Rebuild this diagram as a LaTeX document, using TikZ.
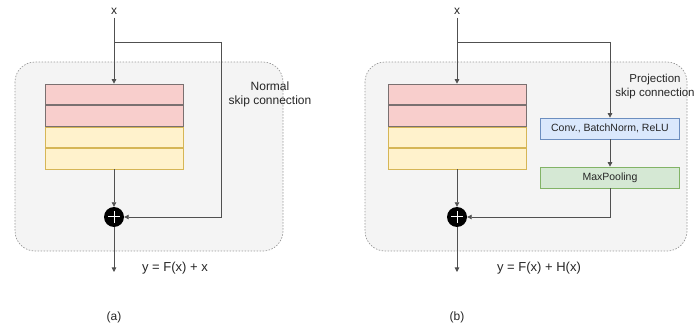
\documentclass[tikz,border=0pt]{standalone}
\usepackage{fontspec}
\setmainfont{Liberation Sans}
\usetikzlibrary{arrows.meta,positioning}
\definecolor{Rosa}{HTML}{F8CECC}
\definecolor{RosaBorde}{HTML}{7A7070}
\definecolor{Amarillo}{HTML}{FFF2CC}
\definecolor{AmarilloBorde}{HTML}{D6B656}
\definecolor{Azul}{HTML}{DAE8FC}
\definecolor{AzulBorde}{HTML}{6C8EBF}
\definecolor{Verde}{HTML}{D5E8D4}
\definecolor{VerdeBorde}{HTML}{82B366}
\definecolor{Fondo}{HTML}{F4F4F4}
\definecolor{FondoBorde}{HTML}{9A9A9A}
\definecolor{Linea}{HTML}{505050}

\begin{document}
\begin{tikzpicture}[
  x=1pt,y=-1pt,
  every node/.style={font=\fontsize{12}{14}\selectfont,text=black!85},
  panel/.style={draw=FondoBorde,fill=Fondo,rounded corners=20pt,
    dash pattern=on 1.5pt off 1.5pt,line width=0.7pt},
  capa/.style={minimum width=138pt,minimum height=20.75pt,inner sep=0pt,
    line width=0.7pt},
  roja/.style={capa,fill=Rosa,draw=RosaBorde},
  amarilla/.style={capa,fill=Amarillo,draw=AmarilloBorde},
  caja/.style={minimum width=139pt,minimum height=21pt,inner sep=0pt,
    line width=0.7pt,font=\fontsize{10.5}{12}\selectfont},
  suma/.style={circle,fill=black,minimum size=20pt,inner sep=0pt,
    path picture={\draw[white,line width=1pt]
      ([xshift=-6pt]path picture bounding box.center) --
      ([xshift=6pt]path picture bounding box.center)
      ([yshift=-6pt]path picture bounding box.center) --
      ([yshift=6pt]path picture bounding box.center);}},
  flecha/.style={-{Triangle[length=4.5pt,width=4.5pt]},Linea,line width=0.8pt},
  ecuacion/.style={font=\fontsize{13}{15}\selectfont}
]
  \useasboundingbox (0,0) rectangle (697,326);

  % (a) normal skip connection
  \draw[panel] (15,62) rectangle (283,251);
  \node (xa) at (114,11) {x};
  \node[roja] (a1) at (114,94.4) {};
  \node[roja,below=0pt of a1] (a2) {};
  \node[amarilla,below=0pt of a2] (a3) {};
  \node[amarilla,below=0pt of a3] (a4) {};
  \node[suma] (pa) at (114,217) {};
  \coordinate (ka) at (221,42);
  \coordinate (ya) at (114,272);
  \draw[flecha] (xa) -- (a1);
  \draw[Linea,line width=0.8pt] (xa.south |- ka) -- (ka);
  \draw[flecha] (ka) |- (pa);
  \draw[flecha] (a4) -- (pa);
  \draw[flecha] (pa) -- (ya);
  \node[align=center] (ta) at (270,94) {Normal\\skip connection};
  \node[ecuacion] (ea) at (175,268) {y = F(x) + x};
  \node (la) at (114,317) {(a)};

  % (b) projection skip connection
  \draw[panel] (365,62) rectangle (687,251);
  \node (xb) at (457,11) {x};
  \node[roja] (b1) at (457,94.4) {};
  \node[roja,below=0pt of b1] (b2) {};
  \node[amarilla,below=0pt of b2] (b3) {};
  \node[amarilla,below=0pt of b3] (b4) {};
  \node[caja,fill=Azul,draw=AzulBorde] (conv) at (610,128.5)
    {Conv., BatchNorm, ReLU};
  \node[caja,fill=Verde,draw=VerdeBorde] (pool) at (610,177.5) {MaxPooling};
  \node[suma] (pb) at (457,217) {};
  \coordinate (kb) at (610,42);
  \coordinate (yb) at (457,272);
  \draw[flecha] (xb) -- (b1);
  \draw[Linea,line width=0.8pt] (xb.south |- kb) -- (kb);
  \draw[flecha] (kb) -- (conv);
  \draw[flecha] (conv) -- (pool);
  \draw[flecha] (pool) |- (pb);
  \draw[flecha] (b4) -- (pb);
  \draw[flecha] (pb) -- (yb);
  \node[align=center,font=\fontsize{11.5}{14}\selectfont] (tb) at (655,87)
    {Projection\\skip connection};
  \node[ecuacion] (eb) at (539,268) {y = F(x) + H(x)};
  \node (lb) at (457,317) {(b)};
\end{tikzpicture}
\end{document}
